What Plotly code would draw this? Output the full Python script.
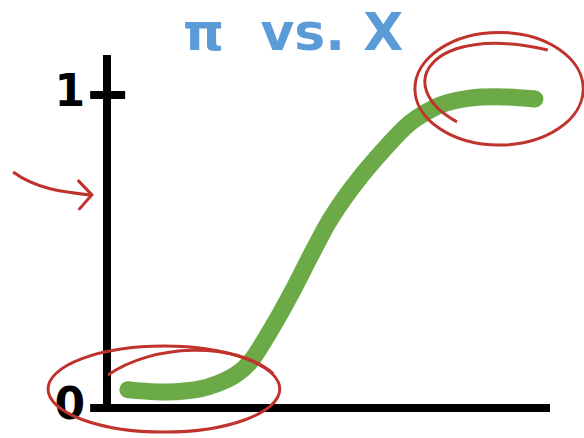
import plotly.graph_objects as go

# sketch: pi vs. X, a sigmoid from 0 up to 1
x_vals = [0.47, 1.35, 2.1, 2.48, 2.89, 3.23, 3.79, 4.2, 4.58, 4.99, 5.49, 6.1, 6.84, 7.52, 8.19, 8.98, 9.66]
pi_vals = [0.058, 0.051, 0.061, 0.077, 0.105, 0.147, 0.272, 0.377, 0.482, 0.591, 0.696, 0.802, 0.911, 0.968, 0.99, 0.994, 0.987]

tick_vals = [0, 1]
tick_labels = ["0", "1"]

GREEN = "#6BAA46"
RED = "#C0322C"
BLUE = "#5B9BD8"

fig = go.Figure()

fig.add_trace(go.Scatter(
    x=x_vals, y=pi_vals,
    mode="lines",
    line=dict(color=GREEN, width=17, shape="spline", smoothing=0.8),
    hoverinfo="skip",
))
# round the ends of the stroke
fig.add_trace(go.Scatter(
    x=[x_vals[0], x_vals[-1]], y=[pi_vals[0], pi_vals[-1]],
    mode="markers",
    marker=dict(color=GREEN, size=17),
    hoverinfo="skip",
))

# hand drawn axes
axis = dict(type="line", xref="x", yref="y", line=dict(color="black", width=8))
fig.add_shape(axis, x0=0, x1=0, y0=0, y1=1.128)
fig.add_shape(axis, x0=-0.38, x1=10, y0=0, y1=0)
fig.add_shape(axis, x0=-0.38, x1=0.41, y0=1, y1=1)

# red circles and arrow
red = dict(color=RED, width=3)
fig.add_shape(type="circle", xref="x", yref="y", x0=-1.33, x1=3.9, y0=-0.077, y1=0.198, line=red)
fig.add_shape(type="path", xref="x", yref="y", line=red,
              path="M 0.02,0.105 C 1.0,0.205 2.9,0.215 3.75,0.11")
fig.add_shape(type="circle", xref="x", yref="y", x0=6.95, x1=10.75, y0=0.84, y1=1.2, line=red)
fig.add_shape(type="path", xref="x", yref="y", line=red,
              path="M 7.9,0.914 C 6.4,1.03 7.3,1.23 9.95,1.144")
fig.add_shape(type="path", xref="x", yref="y", line=red,
              path="M -2.12,0.754 C -1.6,0.70 -1.0,0.69 -0.34,0.68")
fig.add_shape(type="path", xref="x", yref="y", line=red,
              path="M -0.66,0.728 L -0.34,0.681 L -0.64,0.633")

fig.update_layout(
    width=584, height=438, autosize=False,
    margin=dict(l=0, r=0, t=0, b=0),
    paper_bgcolor="white", plot_bgcolor="white",
    showlegend=False,
    title=dict(
        text="π  vs. X",
        x=0.502, xanchor="center",
        y=0.927, yanchor="middle", yref="container",
        font=dict(family="DejaVu Sans", size=52, color=BLUE, weight="bold"),
    ),
    xaxis=dict(range=[-2.415, 10.767], visible=False, fixedrange=True),
    yaxis=dict(
        range=[-0.0958, 1.3035],
        anchor="free", position=107 / 584,
        tickvals=tick_vals, ticktext=tick_labels,
        tickfont=dict(family="DejaVu Sans", size=44, color="black", weight="bold"),
        ticks="", ticklabelstandoff=22, ticklabelshift=-4,
        showgrid=False, zeroline=False, showline=False, fixedrange=True,
    ),
)

# drop the default body margin so the figure fills the window
fig.write_html("out.html", config={"displayModeBar": False},
               post_script="document.body.style.margin = '0';")
